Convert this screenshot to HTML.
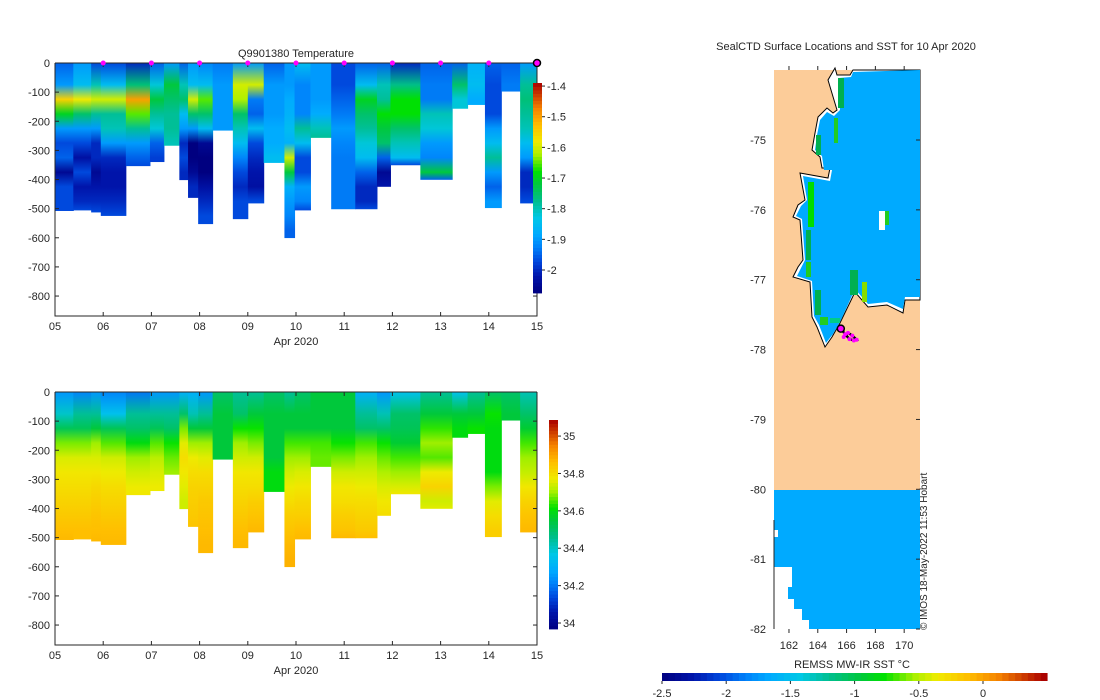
<!DOCTYPE html>
<html><head><meta charset="utf-8"><style>
body{margin:0;background:#fff}
svg{display:block;font-family:"Liberation Sans","DejaVu Sans",sans-serif}
text{fill:#262626;font-size:11px}
</style></head><body>
<svg id="fig" width="1100" height="700" viewBox="0 0 1100 700">
<defs id="defs"></defs>
<g id="toppanel"></g>
<g id="botpanel"></g>
<g id="map">
 <rect x="774" y="70" width="146" height="420" fill="#fccc99"/>
 <polygon fill="#fff" stroke="#000" stroke-width="1" points="853,70 850,75 837,75 835,68 828,80 837,110 833,113 827,108 818,117 815,133 812,150 820,157 822,168 830,168 828,178 800,173 805,200 798,205 793,217 800,220 803,260 798,267 793,277 810,282 812,317 817,327 825,347 832,337 840,323 855,292 868,307 887,305 903,313 905,300 920,300 920,70"/>
 <polygon fill="#00aaff" points="853,72 851,77 839,78 838,82 840,110 834,116 827,112 820,120 817,135 815,150 822,156 824,170 832,170 830,181 803,176 807,200 801,206 796,216 802,219 805,260 801,268 797,276 812,281 814,316 819,325 826,343 833,334 841,320 855,289 868,304 887,302 903,309 905,297 920,297 920,70"/>
 <g id="coastgreen"></g>
 <rect x="774" y="490" width="146" height="139" fill="#00aaff"/>
 <polygon fill="#fff" points="774,567 792,567 792,587 788,587 788,599 794,599 794,609 802,609 802,620 809,620 809,629 774,629"/>
 <rect x="774" y="530" width="4" height="7" fill="#fff"/>
 <rect x="879" y="211" width="6" height="19" fill="#fff"/>
 <rect x="885" y="211" width="4" height="14" fill="#22cc22"/>
 <line x1="774" y1="520" x2="774" y2="629" stroke="#262626"/>
 <g id="maptrack"></g>
 <text x="846" y="50" text-anchor="middle">SealCTD Surface Locations and SST for 10 Apr 2020</text>
 <g id="mapticks"></g>
 <text x="852" y="668" text-anchor="middle">REMSS MW-IR SST °C</text>
 <g id="sstcb"></g>
 <text transform="translate(927,630) rotate(-90)" style="font-size:10px">© IMOS 18-May-2022 11:53 Hobart</text>
</g>
</svg>
<script>
// ---- data ----
const colStart = [0,0.38,0.75,0.95,1.47,1.97,2.26,2.58,2.76,2.97,3.27,3.69,4.0,4.33,4.76,4.97,5.3,5.73,6.23,6.68,6.96,7.58,8.24,8.56,8.92,9.26,9.65];
const colEnd   = [0.38,0.75,0.95,1.47,1.97,2.26,2.58,2.76,2.97,3.27,3.69,4.0,4.33,4.76,4.97,5.3,5.73,6.23,6.68,6.96,7.58,8.24,8.56,8.92,9.26,9.65,10.0];
const colDepth = [508,506,513,525,354,340,284,402,463,553,232,536,482,343,601,506,257,502,502,425,351,401,157,144,498,98,482];
const tempProfiles = [
[-1.95,-1.9,-1.55,-1.7,-1.9,-1.97,-1.95,-2.05,-1.97,-1.97,-1.97],
[-1.9,-1.85,-1.58,-1.75,-1.9,-1.97,-2.03,-1.97,-2.02,-2.0,-1.97],
[-1.97,-1.8,-1.6,-1.78,-1.9,-2.0,-2.0,-2.05,-2.02,-2.0,-1.97],
[-1.97,-1.85,-1.6,-1.78,-1.8,-1.9,-2.0,-2.02,-2.02,-2.0,-1.97],
[-2.0,-1.76,-1.5,-1.65,-1.78,-1.9,-1.95,-1.97],
[-1.95,-1.82,-1.72,-1.78,-1.82,-1.95,-1.98],
[-1.9,-1.72,-1.75,-1.78,-1.78,-1.8],
[-1.95,-1.8,-1.75,-1.85,-1.9,-2.0,-1.97,-2.0,-2.0],
[-1.9,-1.85,-1.6,-1.75,-1.9,-2.08,-2.08,-2.05,-2.0,-2.0],
[-1.92,-1.85,-1.65,-1.75,-1.85,-2.05,-2.08,-2.08,-2.03,-2.0,-1.97,-1.97],
[-1.93,-1.9,-1.9,-1.9,-1.9],
[-1.9,-1.6,-1.62,-1.75,-1.8,-1.85,-1.92,-1.97,-2.0,-1.97,-1.97],
[-1.9,-1.6,-1.93,-1.95,-1.85,-1.97,-2.0,-2.02,-2.03,-1.97],
[-1.95,-1.9,-1.9,-1.9,-1.88,-1.88,-1.85],
[-1.9,-1.9,-1.88,-1.87,-1.85,-1.87,-1.6,-1.72,-1.87,-1.9,-1.92,-1.95,-1.95],
[-1.85,-1.92,-1.92,-1.92,-1.78,-1.85,-1.97,-1.97,-1.9,-1.92,-1.97],
[-1.9,-1.9,-1.9,-1.88,-1.8,-1.78],
[-1.97,-1.97,-1.95,-1.93,-1.9,-1.92,-1.93,-1.93,-1.93,-1.93,-1.93],
[-1.95,-1.85,-1.7,-1.75,-1.78,-1.82,-1.85,-1.95,-2.0,-2.0,-1.97],
[-1.95,-1.8,-1.78,-1.68,-1.72,-1.75,-1.95,-2.05,-2.02],
[-2.0,-1.77,-1.68,-1.68,-1.75,-1.8,-1.85,-1.97],
[-1.95,-1.93,-1.93,-1.8,-1.82,-1.9,-1.92,-1.72,-1.95],
[-1.95,-1.75,-1.82,-1.82],
[-1.87,-1.85,-1.88],
[-1.95,-1.97,-1.97,-1.97,-1.9,-1.85,-1.78,-1.9,-1.95,-1.9],
[-1.95,-1.93],
[-1.9,-1.78,-1.76,-1.78,-1.8,-1.85,-1.9,-2.0,-2.0,-1.97]];
const salProfiles = [
[34.25,34.4,34.52,34.68,34.75,34.78,34.8,34.82,34.84,34.86,34.87],
[34.22,34.45,34.52,34.68,34.75,34.78,34.8,34.82,34.84,34.86,34.86],
[34.25,34.45,34.55,34.7,34.75,34.78,34.81,34.83,34.85,34.86,34.87],
[34.22,34.35,34.52,34.66,34.74,34.77,34.8,34.82,34.84,34.86,34.87],
[34.2,34.45,34.5,34.6,34.7,34.74,34.77,34.78],
[34.25,34.45,34.52,34.66,34.72,34.75,34.77],
[34.25,34.45,34.5,34.62,34.67,34.7],
[34.3,34.5,34.68,34.76,34.8,34.78,34.76,34.74,34.74],
[34.3,34.42,34.55,34.7,34.77,34.8,34.82,34.83,34.84,34.85],
[34.25,34.45,34.55,34.7,34.76,34.8,34.82,34.84,34.85,34.86,34.87,34.87],
[34.5,34.55,34.55,34.55,34.55],
[34.45,34.5,34.62,34.7,34.74,34.78,34.8,34.82,34.84,34.86,34.87],
[34.45,34.55,34.62,34.68,34.74,34.78,34.8,34.83,34.85,34.87],
[34.5,34.55,34.55,34.55,34.55,34.6,34.6],
[34.45,34.55,34.55,34.65,34.7,34.74,34.77,34.8,34.83,34.85,34.87,34.88,34.88],
[34.5,34.55,34.55,34.65,34.7,34.75,34.78,34.81,34.83,34.86,34.87],
[34.55,34.55,34.55,34.65,34.67,34.67],
[34.55,34.55,34.55,34.62,34.68,34.74,34.78,34.8,34.83,34.85,34.87],
[34.3,34.45,34.5,34.65,34.7,34.74,34.77,34.8,34.82,34.84,34.86],
[34.25,34.42,34.5,34.62,34.67,34.71,34.75,34.78,34.8],
[34.35,34.5,34.52,34.56,34.65,34.7,34.75,34.78],
[34.45,34.55,34.64,34.7,34.66,34.77,34.82,34.74,34.76],
[34.35,34.55,34.6,34.6],
[34.45,34.55,34.62],
[34.5,34.62,34.6,34.6,34.6,34.6,34.68,34.76,34.8,34.83],
[34.5,34.55],
[34.42,34.5,34.56,34.65,34.7,34.73,34.78,34.82,34.85,34.87]];
const surfaceDays = [1,2,3,4,5,6,7,8,9];
const lastDay = 10;
const xTickLabels = ["05","06","07","08","09","10","11","12","13","14","15"];
const depthTicks = [0,-100,-200,-300,-400,-500,-600,-700,-800];
const tempTicks = [-1.4,-1.5,-1.6,-1.7,-1.8,-1.9,-2];
const salTicks = [35,34.8,34.6,34.4,34.2,34];
const salTickLabels = ["35","34.8","34.6","34.4","34.2","34"];
const latTicks = [-75,-76,-77,-78,-79,-80,-81,-82];
const lonTicks = [162,164,166,168,170];
const sstTicks = [-2.5,-2,-1.5,-1,-0.5,0];
const trackLon = [165.6,165.9,166.2,166.5,166.7,166.4,166.1,165.8];
const trackLat = [-77.7,-77.78,-77.85,-77.87,-77.86,-77.8,-77.76,-77.82];

// ---- helpers ----
const NS="http://www.w3.org/2000/svg";
const defs=document.getElementById('defs');
function mk(tag,parent,attrs){const e=document.createElementNS(NS,tag);for(const k in attrs)e.setAttribute(k,attrs[k]);parent.appendChild(e);return e;}
const stops=[[0,[0,0,128]],[0.08,[0,20,170]],[0.15,[0,70,220]],[0.22,[0,130,250]],[0.28,[0,170,255]],[0.36,[0,200,230]],[0.44,[0,190,140]],[0.52,[0,200,60]],[0.58,[0,225,0]],[0.66,[170,240,0]],[0.72,[240,235,0]],[0.8,[255,190,0]],[0.88,[245,130,0]],[1,[170,0,0]]];
function cmap(f){f=Math.max(0,Math.min(1,f));for(let i=1;i<stops.length;i++){if(f<=stops[i][0]){const a=stops[i-1],b=stops[i],t=(f-a[0])/(b[0]-a[0]);const c=a[1].map((v,j)=>Math.round(v+(b[1][j]-v)*t));return `rgb(${c})`;}}return "rgb(170,0,0)";}

function panel(g,y0,vals,vmin,vmax,cb,ticks,tickLabels,prefix){
  const X=d=>55+d*48.2, Y=m=>y0+m*0.2913;
  const bottom=y0+253;
  for(let c=0;c<colStart.length;c++){
    const prof=vals[c], dep=colDepth[c];
    const gid=prefix+'g'+c;
    const lg=mk('linearGradient',defs,{id:gid,x1:0,y1:0,x2:0,y2:1});
    for(let k=0;k<prof.length;k++){
      const mid=Math.min(k*50+25,dep);
      mk('stop',lg,{offset:(k===0?0:mid/dep),'stop-color':cmap((prof[k]-vmin)/(vmax-vmin))});
    }
    mk('stop',lg,{offset:1,'stop-color':cmap((prof[prof.length-1]-vmin)/(vmax-vmin))});
    const r=mk('rect',g,{x:X(colStart[c]),y:Y(0),width:X(colEnd[c])-X(colStart[c])+0.5,height:Y(dep)-Y(0),fill:`url(#${gid})`});
    
    
  }
  const ax=mk('path',g,{d:`M55,${y0}V${bottom}H537V${y0}`,fill:'none',stroke:'#262626','stroke-width':1});
  
  
  mk('line',g,{x1:55,y1:y0,x2:537,y2:y0,stroke:'#262626'});
  xTickLabels.forEach((l,i)=>{const x=X(i);
    mk('line',g,{x1:x,y1:bottom,x2:x,y2:bottom-4,stroke:'#262626'});
    mk('line',g,{x1:x,y1:y0,x2:x,y2:y0+4,stroke:'#262626'});
    const t=mk('text',g,{x:x,y:bottom+14,'text-anchor':'middle'});t.textContent=l;
    
    });
  const xl=mk('text',g,{x:296,y:bottom+29,'text-anchor':'middle'});xl.textContent='Apr 2020';
  
  
  depthTicks.forEach(d=>{const y=Y(-d);
    mk('line',g,{x1:55,y1:y,x2:59,y2:y,stroke:'#262626'});
    mk('line',g,{x1:537,y1:y,x2:533,y2:y,stroke:'#262626'});
    const t=mk('text',g,{x:50,y:y+4,'text-anchor':'end'});t.textContent=String(d);
    
    });
  const cg=mk('g',g,{});
  
  
  const n=60,h=(cb.y1-cb.y0)/n;
  for(let i=0;i<n;i++){mk('rect',cg,{x:cb.x,y:cb.y1-(i+1)*h,width:9,height:h+0.4,fill:cmap((i+0.5)/n)});}
  ticks.forEach((v,i)=>{const y=cb.y1-(v-vmin)/(vmax-vmin)*(cb.y1-cb.y0);
    mk('line',cg,{x1:cb.x+9,y1:y,x2:cb.x+12,y2:y,stroke:'#262626'});
    const t=mk('text',cg,{x:cb.x+14,y:y+4});t.textContent=tickLabels[i];
    
    });
  return X;
}
const topG=document.getElementById('toppanel');
const X=panel(topG,63,tempProfiles,-2.075,-1.39,{x:533,y0:83,y1:293},tempTicks,tempTicks.map(String),'temp');
const tt=mk('text',topG,{x:296,y:57,'text-anchor':'middle'});tt.textContent='Q9901380  Temperature';


surfaceDays.forEach(d=>{const c=mk('circle',topG,{cx:X(d),cy:63,r:2.5,fill:'#ff00ff'});
  
  });
const lm=mk('circle',topG,{cx:X(lastDay),cy:63,r:3.5,fill:'#ff00ff',stroke:'#000','stroke-width':1.5});


panel(document.getElementById('botpanel'),392,salProfiles,33.968,35.086,{x:549,y0:420,y1:629},salTicks,salTickLabels,'sal');

// map
const LX=lon=>774+(lon-160.96)*14.4, LY=lat=>140+(-75-lat)*69.86;
const mt=document.getElementById('mapticks');
latTicks.forEach(l=>{const y=LY(l);
  mk('line',mt,{x1:920,y1:y,x2:916,y2:y,stroke:'#262626'});
  const t=mk('text',mt,{x:766,y:y+4,'text-anchor':'end'});t.textContent=String(l);
  
  });
lonTicks.forEach(l=>{const x=LX(l);
  mk('line',mt,{x1:x,y1:70,x2:x,y2:66,stroke:'#262626'});
  mk('line',mt,{x1:x,y1:629,x2:x,y2:633,stroke:'#262626'});
  const t=mk('text',mt,{x:x,y:649,'text-anchor':'middle'});t.textContent=String(l);
  
  });
const cgr=document.getElementById('coastgreen');
[[838,78,6,30,'#00b050'],[834,118,4,25,'#22cc22'],[816,135,5,20,'#00b050'],[808,182,6,45,'#00dd00'],[806,230,5,30,'#00b050'],[806,262,5,15,'#22cc22'],[815,290,6,25,'#00b050'],[820,317,8,8,'#22cc22'],[850,270,8,25,'#00b050'],[862,282,5,20,'#88dd00'],[830,318,10,5,'#00cc88']].forEach(a=>{
  const r=mk('rect',cgr,{x:a[0],y:a[1],width:a[2],height:a[3],fill:a[4]});
  
  });
const mtr=document.getElementById('maptrack');
const pts=trackLon.map((l,i)=>LX(l)+','+LY(trackLat[i])).join(' ');
const pl=mk('polyline',mtr,{points:pts,fill:'none',stroke:'#000','stroke-width':2.5});


trackLon.forEach((l,i)=>{const c=mk('circle',mtr,{cx:LX(l),cy:LY(trackLat[i]),r:2,fill:'#ff00ff'});
  
  });
const cur=mk('circle',mtr,{cx:LX(trackLon[0]),cy:LY(trackLat[0]),r:3.5,fill:'#ff00ff',stroke:'#000','stroke-width':1.5});


const sc=document.getElementById('sstcb');
const SX=v=>983+v*128.4;
for(let i=0;i<60;i++){const v0=-2.5+i*0.05;
  mk('rect',sc,{x:SX(v0),y:673,width:6.8,height:8,fill:cmap((v0+0.025+2.5)/2.98)});}
sstTicks.forEach(v=>{const x=SX(v);
  mk('line',sc,{x1:x,y1:681,x2:x,y2:684,stroke:'#262626'});
  const t=mk('text',sc,{x:x,y:697,'text-anchor':'middle'});t.textContent=String(v);
  
  });
</script>
</body></html>
